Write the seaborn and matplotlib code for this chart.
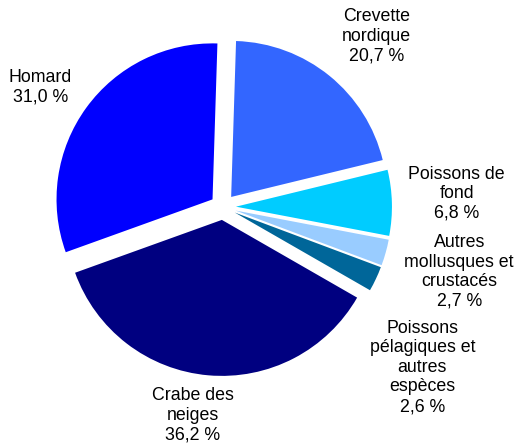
import numpy as np
import matplotlib
matplotlib.use("Agg")
import matplotlib.pyplot as plt
import seaborn as sns

# categories and shares (%), clockwise from 12 o'clock
categories = ["Crevette\nnordique", "Poissons de\nfond", "Autres\nmollusques et\ncrustacés",
              "Poissons\npélagiques et\nautres\nespèces", "Crabe des\nneiges", "Homard"]
shares = [20.7, 6.8, 2.7, 2.6, 36.2, 31.0]
colors = ["#3366FF", "#00CCFF", "#99CCFF", "#006699", "#000080", "#0000FF"]

# label layout: distance (in radii, from the pie centre) and angle offset from the slice bisector
label_dist = [1.47, 1.50, 1.57, 1.64, 1.35, 1.40]
label_shift = [-2.9, 1.8, 0.3, -13.6, -3.2, 2.8]

sns.set_theme(style="white")
plt.rcParams["font.family"] = ["Liberation Sans", "DejaVu Sans"]

fig = plt.figure(figsize=(5.16, 4.48), dpi=100)
ax = fig.add_axes([0, 0, 1, 1])

labels = [f"{c}\n{str(v).replace('.', ',')} %" for c, v in zip(categories, shares)]
wedges, texts = ax.pie(shares, colors=colors, startangle=88.2, counterclock=False,
                       explode=[0.083] * len(shares), labels=labels, labeldistance=1.4,
                       wedgeprops=dict(linewidth=0),
                       textprops=dict(fontsize=12.8, color="black", ha="center", va="center",
                                      multialignment="center", linespacing=1.2))

# reposition the labels around the centre of the pie
for w, t, d, s in zip(wedges, texts, label_dist, label_shift):
    a = np.deg2rad((w.theta1 + w.theta2) / 2 + s)
    t.set_position((d * np.cos(a), d * np.sin(a)))
    t.set_ha("center")
    t.set_va("center")

# pixel-matched view: centre at (223, 207), radius 156 px
R = 156
ax.set_xlim(-223 / R, (516 - 223) / R)
ax.set_ylim(-(448 - 207) / R, 207 / R)
ax.set_aspect("equal")
ax.axis("off")

fig.savefig("out.png", dpi=100)
